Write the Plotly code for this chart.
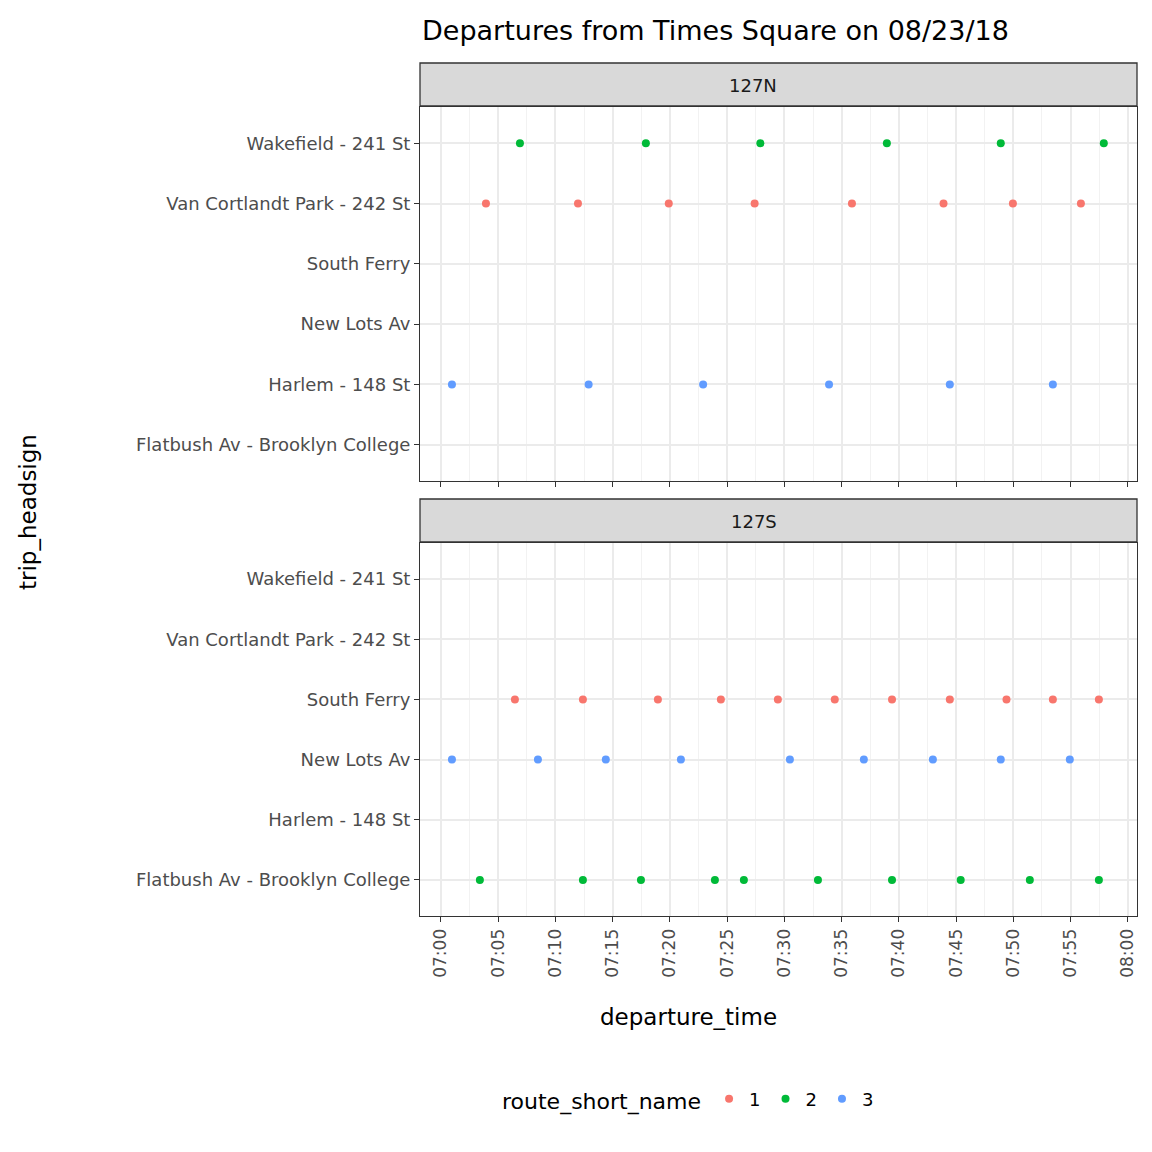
import pandas as pd
import plotly.graph_objects as go

headsigns = ["Flatbush Av - Brooklyn College", "Harlem - 148 St", "New Lots Av",
             "South Ferry", "Van Cortlandt Park - 242 St", "Wakefield - 241 St"]
route_colors = {"1": "#F8766D", "2": "#00BA38", "3": "#619CFF"}

# minutes after 07:00
n_wakefield_2 = [6.9, 17.9, 27.9, 38.95, 48.9, 57.9]
n_vancortlandt_1 = [3.93, 11.97, 19.9, 27.4, 35.9, 43.9, 49.96, 55.9]
n_harlem_3 = [0.96, 12.9, 22.9, 33.9, 44.45, 53.45]
s_southferry_1 = [6.46, 12.4, 18.95, 24.45, 29.43, 34.4, 39.4, 44.45, 49.4, 53.45, 57.47]
s_newlots_3 = [0.96, 8.47, 14.4, 20.96, 30.48, 36.94, 42.97, 48.9, 54.93]
s_flatbush_2 = [3.4, 12.4, 17.47, 23.93, 26.46, 32.93, 39.4, 45.4, 51.44, 57.47]

groups = [
    ("127N", "2", "Wakefield - 241 St", n_wakefield_2),
    ("127N", "1", "Van Cortlandt Park - 242 St", n_vancortlandt_1),
    ("127N", "3", "Harlem - 148 St", n_harlem_3),
    ("127S", "1", "South Ferry", s_southferry_1),
    ("127S", "3", "New Lots Av", s_newlots_3),
    ("127S", "2", "Flatbush Av - Brooklyn College", s_flatbush_2),
]

base = pd.Timestamp("2018-08-23 07:00:00")
fig = go.Figure()
shown = set()
for stop, route, sign, mins in sorted(groups, key=lambda g: g[1]):
    axis = "y" if stop == "127N" else "y2"
    xaxis = "x" if stop == "127N" else "x2"
    fig.add_trace(go.Scatter(
        x=[base + pd.Timedelta(minutes=m) for m in mins],
        y=[headsigns.index(sign)] * len(mins),
        mode="markers", marker=dict(color=route_colors[route], size=8),
        name=route, legendgroup=route, showlegend=route not in shown,
        xaxis=xaxis, yaxis=axis))
    shown.add(route)

# page is offset by the 8px body margin, so lay out on 1136 px
H = 1136.0
OFF = 8


def px(v):
    return (v - OFF) / H


def py(v):
    return 1 - (v - OFF) / H


x0, x1 = px(420), px(1137)
xr = [base - pd.Timedelta(minutes=1.83), base + pd.Timedelta(minutes=60.8)]
tickv = [base + pd.Timedelta(minutes=5 * i) for i in range(13)]
tickt = [t.strftime("%H:%M") for t in tickv]

xcommon = dict(range=xr, showgrid=True, gridcolor="#EBEBEB", gridwidth=1.8,
               minor=dict(showgrid=True, gridcolor="#F2F2F2", gridwidth=1, dtick=150000),
               tickvals=tickv, ticktext=tickt, zeroline=False,
               showline=True, linecolor="#333333", mirror=True,
               ticks="outside", tickcolor="#333333", ticklen=5,
               tickangle=-90, tickfont=dict(size=17, color="#4D4D4D"))
ycommon = dict(range=[-0.6, 5.6], tickvals=list(range(6)), ticktext=headsigns,
               showgrid=True, gridcolor="#EBEBEB", gridwidth=1.8, zeroline=False,
               showline=True, linecolor="#333333", mirror=True,
               ticks="outside", tickcolor="#333333", ticklen=5,
               tickfont=dict(size=18, color="#4D4D4D"))

fig.update_layout(
    width=1136, height=1136, plot_bgcolor="white", paper_bgcolor="white",
    font=dict(family="DejaVu Sans", color="black"),
    margin=dict(l=0, r=0, t=0, b=0),
    xaxis=dict(xcommon, domain=[x0, x1], anchor="y", showticklabels=False),
    yaxis=dict(ycommon, domain=[py(481), py(107)], anchor="x"),
    xaxis2=dict(xcommon, domain=[x0, x1], anchor="y2", matches="x"),
    yaxis2=dict(ycommon, domain=[py(916), py(543)], anchor="x2"),
    legend=dict(orientation="h", x=px(500), y=py(1100), xanchor="left", yanchor="middle",
                title=dict(text="route_short_name", font=dict(size=22)),
                font=dict(size=18)),
    shapes=[
        dict(type="rect", xref="paper", yref="paper", x0=x0, x1=x1,
             y0=py(106), y1=py(63), fillcolor="#D9D9D9",
             line=dict(color="#333333", width=1.3)),
        dict(type="rect", xref="paper", yref="paper", x0=x0, x1=x1,
             y0=py(542), y1=py(499), fillcolor="#D9D9D9",
             line=dict(color="#333333", width=1.3)),
    ],
    annotations=[
        dict(text="Departures from Times Square on 08/23/18", xref="paper", yref="paper",
             x=x0, y=py(30), xanchor="left", yanchor="middle", showarrow=False,
             font=dict(size=27)),
        dict(text="127N", xref="paper", yref="paper", x=(x0 + x1) / 2, y=py(85),
             yanchor="middle", showarrow=False, font=dict(size=18, color="#1A1A1A")),
        dict(text="127S", xref="paper", yref="paper", x=(x0 + x1) / 2, y=py(521),
             yanchor="middle", showarrow=False, font=dict(size=18, color="#1A1A1A")),
        dict(text="departure_time", xref="paper", yref="paper", x=(x0 + x1) / 2,
             y=py(1017), yanchor="middle", showarrow=False, font=dict(size=23)),
        dict(text="trip_headsign", xref="paper", yref="paper", x=px(28), y=py(512),
             xanchor="center", yanchor="middle",
             textangle=-90, showarrow=False, font=dict(size=23)),
    ],
)

fig.write_html("out.html")
